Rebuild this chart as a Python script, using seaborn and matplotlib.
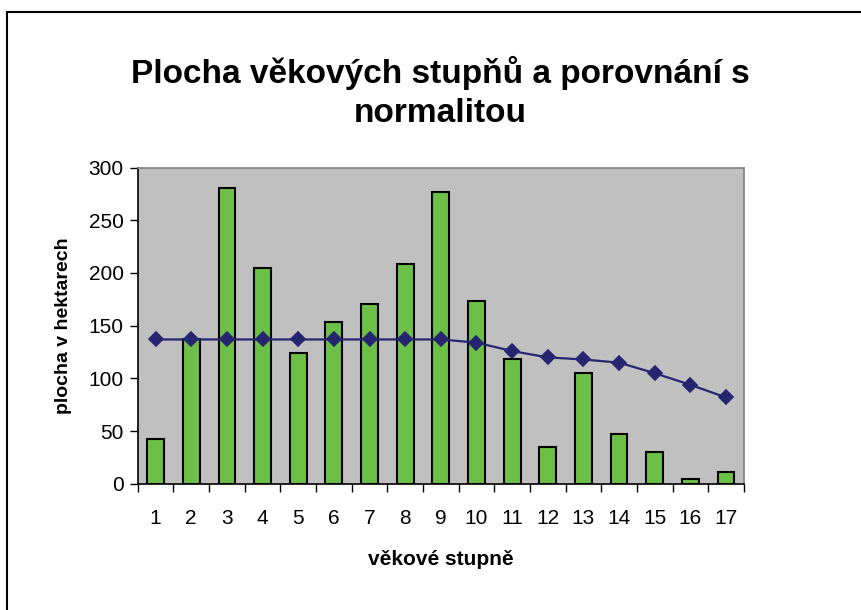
#! /usr/bin/env python
"""
Plocha vekovych stupnu a porovnani s normalitou
"""

import numpy as np
import pandas as pd
import seaborn as sns
import matplotlib.pyplot as plt
from matplotlib.patches import Rectangle

# data
stupne = [str(i) for i in range(1, 18)]
plocha = [43, 137, 281, 205, 124, 154, 171, 209, 277, 173, 118, 35, 105, 47, 30, 5, 11]
normalita = [137, 137, 137, 137, 137, 137, 137, 137, 137, 134, 126, 120, 118, 115, 105, 94, 82]
y_ticks = [0, 50, 100, 150, 200, 250, 300]

df = pd.DataFrame({"stupen": stupne, "plocha": plocha, "normalita": normalita})

sns.set_style("white")
plt.rcParams["font.family"] = ["Liberation Sans", "DejaVu Sans"]
plt.rcParams["text.color"] = "black"
plt.rcParams["axes.labelcolor"] = "black"
plt.rcParams["xtick.color"] = "black"
plt.rcParams["ytick.color"] = "black"

fig = plt.figure(figsize=(8.61, 6.10), dpi=100)
ax = fig.add_axes([0.160, 0.2066, 0.704, 0.5188])
ax.set_facecolor("#C0C0C0")

sns.barplot(
    data=df, x="stupen", y="plocha", order=stupne, color="#6CBF47",
    edgecolor="black", linewidth=1.5, width=0.47, saturation=1, ax=ax,
)
sns.pointplot(
    data=df, x="stupen", y="normalita", order=stupne, color="#262670",
    markers="D", markersize=7, linewidth=1.6, ax=ax,
)

ax.set_xlim(-0.5, 16.5)
ax.set_ylim(0, 300)
ax.set_yticks(y_ticks)
ax.set_xticks(np.arange(-0.5, 17, 1), minor=True)
ax.tick_params(axis="x", which="major", length=0, pad=18, labelsize=15)
ax.tick_params(axis="x", which="minor", length=6, width=1, direction="out")
ax.tick_params(axis="y", length=6, width=1, direction="out", labelsize=15, pad=4)
ax.yaxis.set_ticks_position("left")
ax.xaxis.set_ticks_position("bottom")

for side in ["top", "right"]:
    ax.spines[side].set_color("#808080")
    ax.spines[side].set_linewidth(1.2)
for side in ["left", "bottom"]:
    ax.spines[side].set_color("black")
    ax.spines[side].set_linewidth(1.2)

ax.set_xlabel("věkové stupně", fontsize=15, fontweight="bold", labelpad=16)
ax.set_ylabel("plocha v hektarech", fontsize=14, fontweight="bold", labelpad=12)

fig.text(0.511, 0.848, "Plocha věkových stupňů a porovnání s\nnormalitou",
         ha="center", va="center", fontsize=24, fontweight="bold", linespacing=1.32)

# outer chart frame
fig.patches.append(Rectangle((0.0085, -0.05), 1.2, 1.03, transform=fig.transFigure,
                             fill=False, edgecolor="black", linewidth=1.5))

fig.savefig("out.png", dpi=100)
